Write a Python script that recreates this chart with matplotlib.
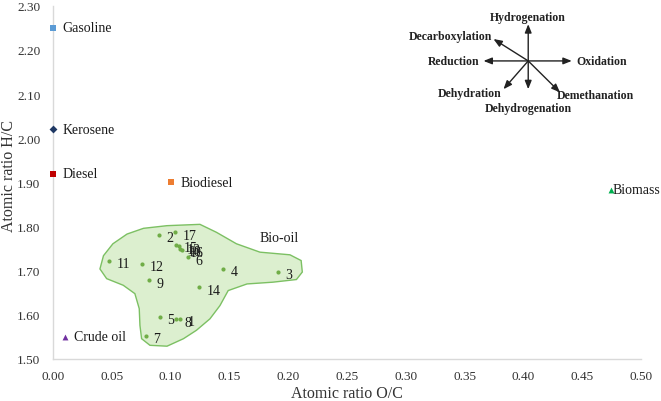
import matplotlib
matplotlib.use("Agg")
import matplotlib.pyplot as plt
from matplotlib.patches import Polygon

plt.rcParams['font.family'] = ['Liberation Serif', 'DejaVu Serif']

# Reference fuels
fuel_names = ["Gasoline", "Kerosene", "Diesel", "Biodiesel", "Crude oil", "Biomass"]
fuel_oc = [0.00, 0.00, 0.00, 0.10, 0.01, 0.474]
fuel_hc = [2.25, 2.02, 1.92, 1.90, 1.55, 1.883]
fuel_colors = ["#5b9bd5", "#1f3864", "#c00000", "#ed7d31", "#7030a0", "#00b050"]
fuel_markers = ["s", "D", "s", "s", "^", "^"]

# Bio-oil samples
bio_ids = ["1", "2", "3", "4", "5", "6", "7", "8", "9", "10",
           "11", "12", "13", "14", "15", "16", "17"]
bio_oc = [0.108, 0.090, 0.191, 0.145, 0.091, 0.115, 0.079, 0.105, 0.082, 0.108,
          0.048, 0.076, 0.107, 0.124, 0.105, 0.110, 0.104]
bio_hc = [1.591, 1.782, 1.698, 1.704, 1.596, 1.730, 1.553, 1.590, 1.678, 1.750,
          1.723, 1.716, 1.755, 1.662, 1.758, 1.747, 1.787]

# Bio-oil region outline (O/C, H/C)
region_oc = [0.043, 0.051, 0.063, 0.077, 0.097, 0.125, 0.139, 0.156, 0.176, 0.2015,
             0.211, 0.212, 0.207, 0.187, 0.165, 0.149, 0.142, 0.1335, 0.122, 0.111,
             0.097, 0.0825, 0.0754, 0.074, 0.0734, 0.0697, 0.0598, 0.0457, 0.040]
region_hc = [1.734, 1.761, 1.783, 1.796, 1.802, 1.805, 1.787, 1.761, 1.742, 1.736,
             1.723, 1.697, 1.680, 1.674, 1.670, 1.655, 1.621, 1.591, 1.565, 1.546,
             1.529, 1.531, 1.546, 1.576, 1.614, 1.648, 1.667, 1.682, 1.704]

x_ticks = [0.00, 0.05, 0.10, 0.15, 0.20, 0.25, 0.30, 0.35, 0.40, 0.45, 0.50]
y_ticks = [1.50, 1.60, 1.70, 1.80, 1.90, 2.00, 2.10, 2.20, 2.30]

fig = plt.figure(figsize=(6.61, 4.02), dpi=100)
ax = fig.add_axes([0.080, 0.1045, 0.890, 0.8785])

ax.add_patch(Polygon(list(zip(region_oc, region_hc)), closed=True,
                     facecolor="#dcefcf", edgecolor="#7cc063", linewidth=1.0, zorder=1))

ax.scatter(bio_oc, bio_hc, s=9, color="#70ad47", zorder=3, linewidths=0)
for i, x, y in zip(bio_ids, bio_oc, bio_hc):
    ax.annotate(i, (x, y), xytext=(5.5, -2), textcoords="offset points",
                ha="left", va="center", fontsize=10, color="#1a1a1a", zorder=4)

for n, x, y, c, m in zip(fuel_names, fuel_oc, fuel_hc, fuel_colors, fuel_markers):
    ax.scatter([x], [y], s=18 if m != "D" else 16, marker=m, color=c, zorder=5,
               linewidths=0, clip_on=False)
    off = 1.5 if n == "Biomass" else 7
    ax.annotate(n, (x, y), xytext=(off, 0), textcoords="offset points",
                ha="left", va="center", fontsize=10, color="#1a1a1a")

ax.text(0.176, 1.776, "Bio-oil", fontsize=10, ha="left", va="center", color="#1a1a1a")

ax.set_xlim(0, 0.5)
ax.set_ylim(1.5, 2.3)
ax.set_xticks(x_ticks)
ax.set_xticklabels([f"{v:.2f}" for v in x_ticks])
ax.set_yticks(y_ticks)
ax.set_yticklabels([f"{v:.2f}" for v in y_ticks])
ax.tick_params(length=0, labelsize=9.5, colors="#333333")
ax.tick_params(axis="y", pad=9)
ax.tick_params(axis="x", pad=8)
for s in ["top", "right"]:
    ax.spines[s].set_visible(False)
for s in ["left", "bottom"]:
    ax.spines[s].set_color("#d9d9d9")
    ax.spines[s].set_linewidth(1.0)

ax.set_xlabel("Atomic ratio O/C", fontsize=11.5, color="#333333", va="center")
ax.xaxis.set_label_coords(0.5, -0.095)
ax.set_ylabel("Atomic ratio H/C", fontsize=11.5, color="#333333", va="center")
ax.yaxis.set_label_coords(-0.075, 0.52)

# Reaction direction diagram
c = (0.808, 0.844)
arrows = [(0.808, 0.948), (0.808, 0.764), (0.732, 0.844), (0.882, 0.844),
          (0.749, 0.906), (0.862, 0.755), (0.766, 0.764)]
for end in arrows:
    ax.annotate("", xy=end, xytext=c, xycoords="axes fraction",
                textcoords="axes fraction",
                arrowprops=dict(arrowstyle="-|>,head_length=0.5,head_width=0.2",
                                color="#222222", lw=1.0, shrinkA=0, shrinkB=0))
rx_labels = [("Hydrogenation", 0.808, 0.967),
             ("Decarboxylation", 0.675, 0.915),
             ("Reduction", 0.681, 0.844),
             ("Oxidation", 0.933, 0.844),
             ("Dehydration", 0.709, 0.753),
             ("Dehydrogenation", 0.808, 0.712),
             ("Demethanation", 0.922, 0.747)]
for t, x, y in rx_labels:
    ax.text(x, y, t, transform=ax.transAxes, fontsize=8.5, fontweight="bold",
            ha="center", va="center", color="#222222")

fig.savefig("out.png", dpi=100)
